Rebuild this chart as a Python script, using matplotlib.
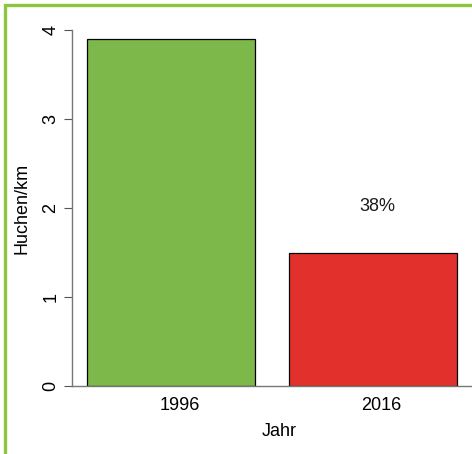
import matplotlib
matplotlib.use('Agg')
import matplotlib.pyplot as plt
from matplotlib.patches import Rectangle

plt.rcParams['font.family'] = ['Liberation Sans', 'DejaVu Sans']

# data
jahre = ['1996', '2016']
huchen = [3.9, 1.5]
farben = ['#7db84a', '#e2312d']
anteil = '38%'

W, H = 472, 454
fig = plt.figure(figsize=(W/100, H/100), dpi=100)

# green frame around the figure
fig.patches.append(Rectangle((4.5/W, -0.01), 1.1, (H-4.5)/H + 0.01, transform=fig.transFigure,
                             fill=False, edgecolor='#8cc63e', lw=2.4, zorder=0))

# axes placed in pixel coords: x from 72 to 472, y-axis 0 at 386, 4 at 30
ax = fig.add_axes([72/W, (H-386)/H, 400/W, (386-21.1)/H])
ax.set_xlim(0.111, 2.49)
ax.set_ylim(0, 4.1)

lefts = [0.2, 1.4]
ax.bar(lefts, huchen, width=1.0, align='edge', color=farben, edgecolor='black', lw=0.9, zorder=2)

ax.text(1.93, 2.02, anteil, ha='center', va='center', fontsize=13, color='#1a1a1a')

for s in ['top', 'right']:
    ax.spines[s].set_visible(False)
ax.spines['left'].set_bounds(0, 4)
ax.spines['left'].set_color('#777777')
ax.spines['bottom'].set_color('#777777')
ax.spines['left'].set_linewidth(1.0)
ax.spines['bottom'].set_linewidth(1.0)

ax.set_yticks([0, 1, 2, 3, 4])
ax.set_yticklabels(['0', '1', '2', '3', '4'], rotation=90, va='center')
ax.tick_params(axis='y', length=6, color='#555555', labelsize=13, pad=3)
ax.set_xticks([c + 0.55 for c in lefts])
ax.set_xticklabels(jahre)
ax.tick_params(axis='x', length=0, labelsize=13, pad=8)

ax.set_xlabel('Jahr', fontsize=13)
ax.xaxis.set_label_coords((279-72)/400, -(432-386)/(386-21.1), transform=ax.transAxes)
ax.xaxis.label.set_va('center')
ax.set_ylabel('Huchen/km', fontsize=13)
ax.yaxis.set_label_coords(-(72-22)/400, (386-208)/(386-21.1), transform=ax.transAxes)
ax.yaxis.label.set_ha('center')
ax.yaxis.label.set_va('center')

fig.savefig('out.png', dpi=100)
